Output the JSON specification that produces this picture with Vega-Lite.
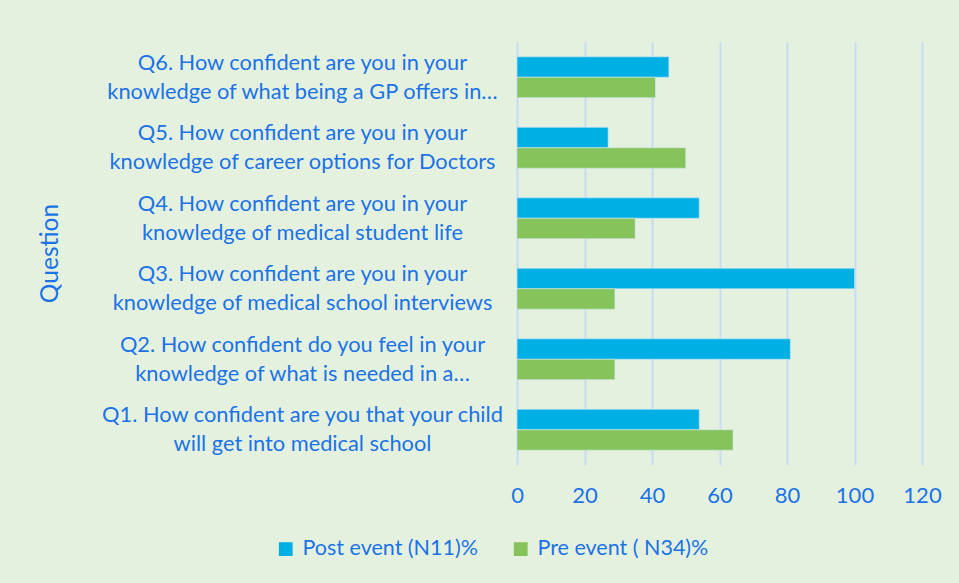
{
  "$schema": "https://vega.github.io/schema/vega-lite/v6.json",
  "width": 405,
  "height": 423,
  "autosize": {"type": "none"},
  "padding": {"left": 517, "top": 42, "right": 37, "bottom": 118},
  "background": "#E5F1DF",
  "data": {
    "values": [
      {"question": "Q6. How confident are you in your|knowledge of what being a GP offers in…", "series": "Post event (N11)%", "value": 45},
      {"question": "Q6. How confident are you in your|knowledge of what being a GP offers in…", "series": "Pre event ( N34)%", "value": 41},
      {"question": "Q5. How confident are you in your|knowledge of career options for Doctors", "series": "Post event (N11)%", "value": 27},
      {"question": "Q5. How confident are you in your|knowledge of career options for Doctors", "series": "Pre event ( N34)%", "value": 50},
      {"question": "Q4. How confident are you in your|knowledge of medical student life", "series": "Post event (N11)%", "value": 54},
      {"question": "Q4. How confident are you in your|knowledge of medical student life", "series": "Pre event ( N34)%", "value": 35},
      {"question": "Q3. How confident are you in your|knowledge of medical school interviews", "series": "Post event (N11)%", "value": 100},
      {"question": "Q3. How confident are you in your|knowledge of medical school interviews", "series": "Pre event ( N34)%", "value": 29},
      {"question": "Q2. How confident do you feel in your|knowledge of what is needed in a…", "series": "Post event (N11)%", "value": 81},
      {"question": "Q2. How confident do you feel in your|knowledge of what is needed in a…", "series": "Pre event ( N34)%", "value": 29},
      {"question": "Q1. How confident are you that your child|will get into medical school", "series": "Post event (N11)%", "value": 54},
      {"question": "Q1. How confident are you that your child|will get into medical school", "series": "Pre event ( N34)%", "value": 64}
    ]
  },
  "mark": {"type": "bar", "stroke": "#CFE8F5", "strokeWidth": 0.6},
  "encoding": {
    "y": {
      "field": "question",
      "type": "nominal",
      "sort": null,
      "scale": {"paddingInner": 0.42, "paddingOuter": 0.21},
      "axis": {
        "title": "Question",
        "titleAngle": -90,
        "titleX": -455,
        "titleY": 211,
        "titleFont": "Lato",
        "titleFontSize": 24.5,
        "titleFontWeight": "normal",
        "titleColor": "#1A73E8",
        "labelExpr": "split(datum.label, '|')",
        "labelAlign": "center",
        "labelBaseline": "middle",
        "labelOffset": -14.5,
        "labelPadding": 215,
        "labelFont": "Lato",
        "labelFontSize": 21.8,
        "labelLineHeight": 29,
        "labelColor": "#1A73E8",
        "labelLimit": 0,
        "ticks": false,
        "domain": false
      }
    },
    "yOffset": {"field": "series", "type": "nominal", "sort": null},
    "x": {
      "field": "value",
      "type": "quantitative",
      "scale": {"domain": [0, 120], "nice": false},
      "axis": {
        "title": null,
        "values": [0, 20, 40, 60, 80, 100, 120],
        "grid": true,
        "gridColor": "#C4DCF6",
        "gridWidth": 2,
        "domain": false,
        "ticks": false,
        "labelFlush": false,
        "labelPadding": 20,
        "labelFont": "Lato",
        "labelFontSize": 22,
        "labelColor": "#1A73E8"
      }
    },
    "color": {
      "field": "series",
      "type": "nominal",
      "sort": null,
      "scale": {"range": ["#00AFE4", "#86C45B"]},
      "legend": {
        "title": null,
        "orient": "none",
        "direction": "horizontal",
        "legendX": -242,
        "legendY": 496,
        "symbolType": "square",
        "symbolSize": 190,
        "symbolStrokeWidth": 0,
        "labelFont": "Lato",
        "labelFontSize": 21.5,
        "labelColor": "#1A73E8",
        "labelOffset": 6,
        "columnPadding": 32,
        "labelLimit": 0
      }
    }
  },
  "config": {"view": {"stroke": null}}
}
